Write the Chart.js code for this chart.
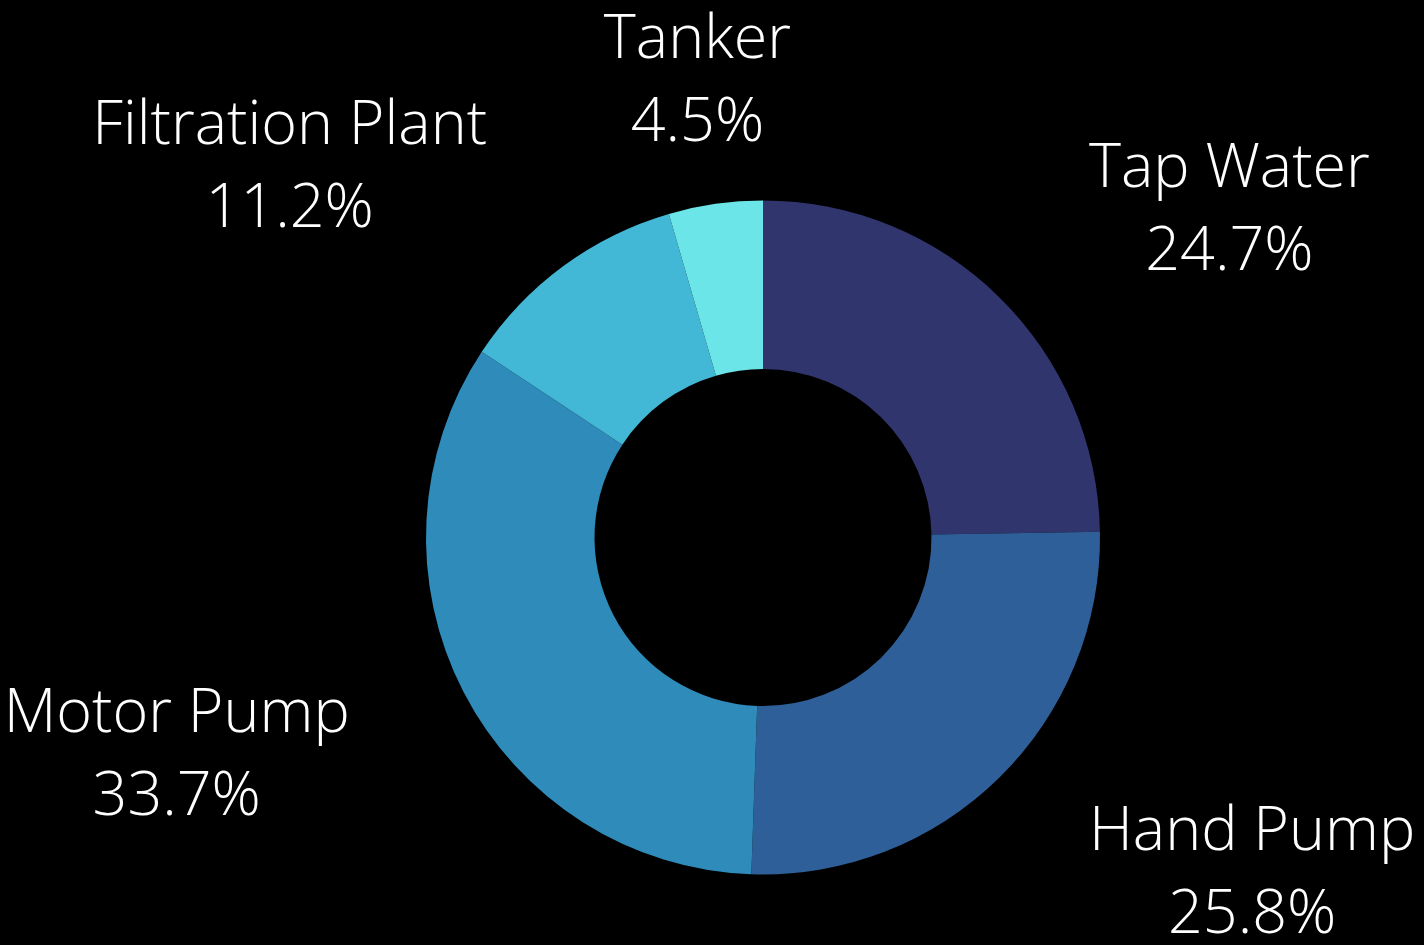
<!DOCTYPE html>
<html>
<head>
<meta charset="utf-8">
<script src="https://cdn.jsdelivr.net/npm/chart.js@4.4.1/dist/chart.umd.min.js"></script>
<style>
  html, body { margin: 0; padding: 0; background: #000; }
  #wrap { width: 1424px; height: 945px; position: relative; background: #000; }
</style>
</head>
<body>
<div id="wrap"><canvas id="c"></canvas></div>
<script>
const categories = ["Tap Water", "Hand Pump", "Motor Pump", "Filtration Plant", "Tanker"];
const shares = [24.7, 25.8, 33.7, 11.2, 4.5];
const sliceColors = ["#31356E", "#2E5F98", "#2E8BBA", "#42B7D6", "#6CE5E8"];

const FONT_SIZE = 61;
const LINE_GAP = 83;
const CAP_HALF = 22.5;
const FONT = "300 " + FONT_SIZE + "px 'Open Sans'";

const outsideLabels = {
  id: 'outsideLabels',
  afterDatasetsDraw(chart) {
    const ctx = chart.ctx;
    const meta = chart.getDatasetMeta(0);
    const data = chart.data.datasets[0].data;
    const total = data.reduce((a, b) => a + b, 0);
    ctx.save();
    ctx.font = FONT;
    ctx.fillStyle = '#ffffff';
    ctx.textBaseline = 'alphabetic';
    meta.data.forEach((arc, i) => {
      const p = arc.getProps(['x', 'y', 'startAngle', 'endAngle', 'outerRadius'], true);
      const mid = (p.startAngle + p.endAngle) / 2;
      const r = p.outerRadius * 1.38;
      const ax = p.x + Math.cos(mid) * r;
      const ay = p.y + Math.sin(mid) * r;
      const c = Math.cos(mid);
      let align = 'center';
      if (Math.abs(c) > 0.3) align = c > 0 ? 'left' : 'right';
      ctx.textAlign = 'center';
      const l1 = chart.data.labels[i];
      const l2 = (data[i] / total * 100).toFixed(1) + '%';
      const w = Math.max(ctx.measureText(l1).width, ctx.measureText(l2).width);
      let cxText = ax;
      if (align === 'left') cxText = ax + w / 2;
      if (align === 'right') cxText = ax - w / 2;
      ctx.fillText(l1, cxText, ay - LINE_GAP / 2 + CAP_HALF);
      ctx.fillText(l2, cxText, ay + LINE_GAP / 2 + CAP_HALF);
    });
    ctx.restore();
  }
};

new Chart(document.getElementById('c'), {
  type: 'doughnut',
  data: {
    labels: categories,
    datasets: [{
      data: shares,
      backgroundColor: sliceColors,
      borderWidth: 0
    }]
  },
  options: {
    responsive: true,
    maintainAspectRatio: false,
    animation: false,
    cutout: '50%',
    layout: { padding: { left: 426, right: 324, top: 200, bottom: 70 } },
    plugins: {
      legend: { display: false },
      tooltip: { enabled: false }
    }
  },
  plugins: [outsideLabels]
});
</script>
</body>
</html>
